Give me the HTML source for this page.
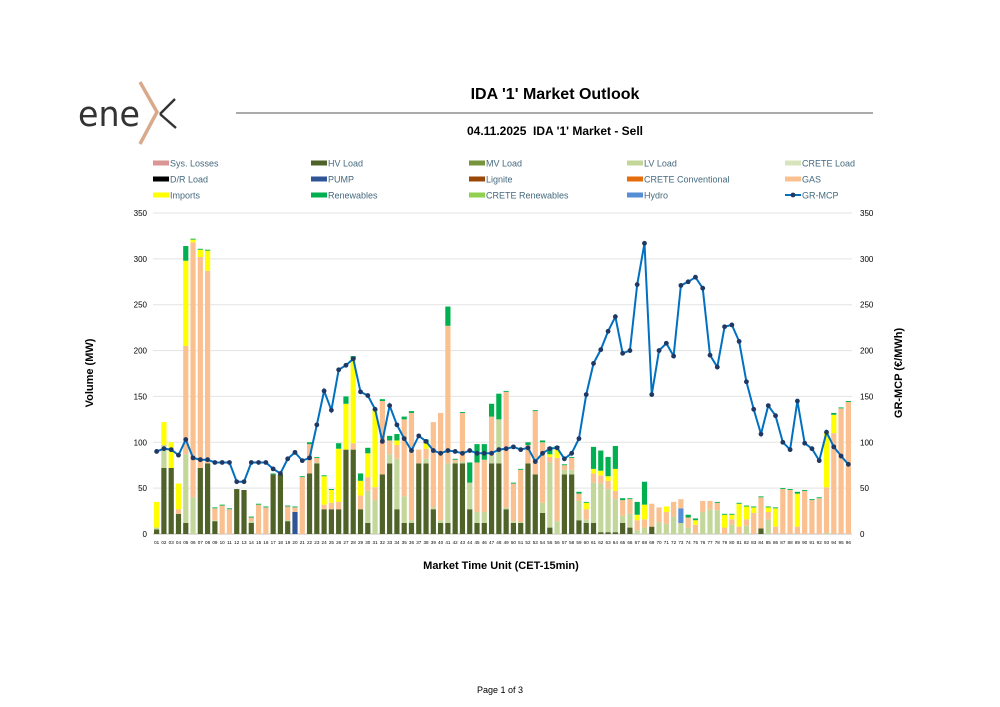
<!DOCTYPE html>
<html><head><meta charset="utf-8">
<style>
body{margin:0;background:#fff;width:1000px;height:707px;overflow:hidden;font-family:"Liberation Sans",sans-serif}
svg{position:absolute;left:0;top:0}
</style></head>
<body>
<svg id="chart" width="1000" height="707" viewBox="0 0 1000 707">
  <g>
    <text x="78" y="126" font-size="35" fill="#333" textLength="62" lengthAdjust="spacingAndGlyphs" font-family="DejaVu Sans, Liberation Sans, sans-serif">ene</text>
    <polyline points="140,82 157,112 140,144" fill="none" stroke="#d9a98c" stroke-width="3.5"/>
    <line x1="175" y1="99" x2="160" y2="114" stroke="#333" stroke-width="2.4"/>
    <line x1="160" y1="114" x2="176" y2="128" stroke="#333" stroke-width="2.4"/>
  </g>
  <text x="555" y="99" font-size="16" font-weight="bold" text-anchor="middle" fill="#000">IDA '1' Market Outlook</text>
  <line x1="236" y1="113" x2="873" y2="113" stroke="#555" stroke-width="1"/>
  <text x="555" y="135" font-size="12" font-weight="bold" text-anchor="middle" fill="#000" xml:space="preserve">04.11.2025  IDA '1' Market - Sell</text>
  <g id="legend"></g>
  <g id="grid"></g>
  <g id="bars"></g>
  <g id="line"></g>
  <g id="axes"></g>
  <text transform="translate(93,373) rotate(-90)" font-size="11" font-weight="bold" text-anchor="middle">Volume (MW)</text>
  <text transform="translate(902,373) rotate(-90)" font-size="11" font-weight="bold" text-anchor="middle">GR-MCP (€/MWh)</text>
  <text x="501" y="569" font-size="11" font-weight="bold" text-anchor="middle">Market Time Unit (CET-15min)</text>
  <text x="500" y="693" font-size="9" text-anchor="middle">Page 1 of 3</text>
</svg>
<script>
const hv=[5,72,72,22,12,0,72,77,14,0,0,49,48,12,0,0,65,65,14,0,0,66,77,27,27,27,92,92,27,12,0,65,77,27,12,12,77,77,27,12,12,77,77,27,12,12,77,77,27,12,12,77,65,23,7,0,65,65,15,12,12,2,2,2,12,7,0,0,8,0,0,0,0,0,0,0,0,0,0,0,0,0,0,6,0,0,0,0,0,0,0,0,0,0,0,0];
const lv=[2,25,0,0,75,40,0,0,1,0,0,0,0,2,0,0,0,0,1,0,0,0,1,0,0,0,0,0,0,35,37,0,10,55,29,3,0,5,2,3,65,1,2,29,12,12,8,48,2,2,1,0,0,11,71,14,5,5,21,4,44,53,47,36,8,15,4,7,0,13,11,19,12,7,0,24,27,26,0,10,0,9,0,0,16,0,0,0,0,0,0,0,1,0,0,0];
const pump=Array(96).fill(0); pump[19]=24;
const hydro=Array(96).fill(0); hydro[72]=16;
const gas=[0,0,0,5,118,278,230,210,13,31,27,0,0,4,32,29,0,0,15,5,62,32,5,5,7,8,0,7,15,15,14,80,15,15,84,117,15,11,93,117,150,3,53,0,54,57,43,0,126,41,57,20,69,66,6,69,5,13,8,11,10,9,9,9,17,16,11,9,25,16,13,16,10,11,10,12,9,8,7,6,8,7,23,34,8,8,49,48,8,47,37,39,50,110,137,144];
const imp=[28,25,28,28,93,3,8,22,0,0,0,0,0,0,0,0,0,0,0,0,0,0,0,31,14,58,50,92,16,26,84,0,0,5,0,0,0,6,0,0,0,0,0,0,0,0,0,0,0,0,0,0,0,0,3,12,0,0,0,7,5,5,5,24,0,0,6,16,0,0,6,0,0,0,5,0,0,0,14,5,25,14,6,0,5,20,0,0,36,0,0,0,60,20,0,0];
const ren=[0,0,0,0,16,1,1,1,1,1,1,0,0,1,1,1,1,0,1,1,1,2,1,1,1,6,8,3,8,6,1,2,5,7,3,2,0,4,0,0,21,1,1,22,20,17,14,28,1,1,1,3,1,2,8,1,1,1,2,1,24,22,21,25,2,1,14,25,0,0,0,0,0,3,2,0,0,1,1,1,1,1,1,1,1,1,1,1,2,1,1,1,0,2,1,1];
const mcp=[90,93,92,86,103,83,81,81,78,78,78,57,57,78,78,78,71,66,82,89,80,83,119,156,135,179,184,191,155,151,136,101,140,119,104,91,107,101,91,88,91,90,88,91,88,88,88,92,93,95,92,94,79,88,93,94,82,88,104,152,186,201,221,237,197,200,272,317,152,200,208,194,271,275,280,268,195,182,226,228,210,166,136,109,140,129,100,92,145,99,93,80,111,95,85,76];
const yTicks=[0,50,100,150,200,250,300,350];
const series=[[hv,'#4f6228','hv-load'],[lv,'#c4d79b','lv-load'],[pump,'#2f5597','pump'],[hydro,'#558ed5','hydro'],[gas,'#fac090','gas'],[imp,'#ffff00','imports'],[ren,'#00b050','renewables']];
const NS='http://www.w3.org/2000/svg';
const X0=153,W=699,Y0=534,H=321,VMAX=350;
const step=W/96;
function xc(i){return X0+step*(i+0.5);}
function y(v){return Y0-v*H/VMAX;}
function mk(t,a,p){const e=document.createElementNS(NS,t);for(const k in a)e.setAttribute(k,a[k]);p.appendChild(e);return e;}
const grid=document.getElementById('grid'),axes=document.getElementById('axes'),bars=document.getElementById('bars'),line=document.getElementById('line'),leg=document.getElementById('legend');
yTicks.forEach(t=>{
  const g=mk('line',{x1:X0,x2:X0+W,y1:y(t),y2:y(t),stroke:t===0?'#bfbfbf':'#e3e3e3','stroke-width':1},grid);
  
  
  const l=mk('text',{x:147,y:y(t)+3,'font-size':8,'text-anchor':'end',fill:'#000'},axes);l.textContent=t;
  
  
  const r=mk('text',{x:860,y:y(t)+3,'font-size':8,fill:'#000'},axes);r.textContent=t;
  
  
});
for(let i=0;i<96;i++){
  let acc=0;
  series.forEach(s=>{const v=s[0][i];if(v>0){
    const r=mk('rect',{x:xc(i)-2.6,y:y(acc+v),width:5.2,height:v*H/VMAX,fill:s[1]},bars);
    
    
    acc+=v;}});
  const t=mk('text',{x:xc(i),y:544,'font-size':4.6,'text-anchor':'middle',fill:'#000'},axes);
  t.textContent=String(i+1).padStart(2,'0');
  
  
}
const pts=mcp.map((v,i)=>xc(i)+','+y(v)).join(' ');
const pl=mk('polyline',{points:pts,fill:'none',stroke:'#0070c0','stroke-width':2},line);


mcp.forEach((v,i)=>{const c=mk('circle',{cx:xc(i),cy:y(v),r:2.4,fill:'#1f3864'},line);
  
  });
const legItems=[['Sys. Losses','#da9694'],['HV Load','#4f6228'],['MV Load','#77933c'],['LV Load','#c4d79b'],['CRETE Load','#d8e4bc'],
['D/R Load','#000000'],['PUMP','#2f5597'],['Lignite','#984807'],['CRETE Conventional','#e46c0a'],['GAS','#fac090'],
['Imports','#ffff00'],['Renewables','#00b050'],['CRETE Renewables','#92d050'],['Hydro','#558ed5'],['GR-MCP','line']];
legItems.forEach((it,k)=>{
  const cx=153+(k%5)*158,cy=163+Math.floor(k/5)*16;
  const g=mk('g',{},leg);
  
  
  if(it[1]==='line'){mk('line',{x1:cx,x2:cx+16,y1:cy,y2:cy,stroke:'#0070c0','stroke-width':2},g);mk('circle',{cx:cx+8,cy:cy,r:2.4,fill:'#1f3864'},g);}
  else mk('rect',{x:cx,y:cy-2.5,width:16,height:5,fill:it[1]},g);
  const t=mk('text',{x:cx+17,y:cy+3.5,'font-size':9,fill:'#44697d'},g);t.textContent=it[0];
});
</script>
</body></html>
